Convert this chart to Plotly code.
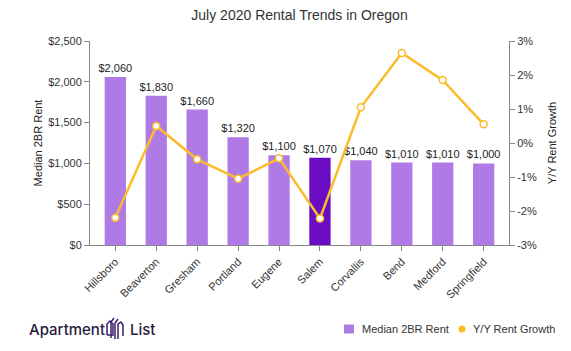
import plotly.graph_objects as go

cities = ["Hillsboro", "Beaverton", "Gresham", "Portland", "Eugene", "Salem",
          "Corvallis", "Bend", "Medford", "Springfield"]
rent = [2060, 1830, 1660, 1320, 1100, 1070, 1040, 1010, 1010, 1000]
growth = [-2.2, 0.5, -0.48, -1.05, -0.45, -2.22, 1.05, 2.65, 1.85, 0.55]
highlight = "Salem"
rent_ticks = [0, 500, 1000, 1500, 2000, 2500]
growth_ticks = [-3, -2, -1, 0, 1, 2, 3]

light = "#b07ae6"
dark = "#6a0cc4"
gold = "#fbbc2c"
bar_colors = [dark if c == highlight else light for c in cities]

L, R, T, B = 90, 509, 41, 245
W, H = 571, 351

fig = go.Figure()
fig.add_trace(go.Bar(
    x=cities, y=rent, name="Median 2BR Rent",
    marker=dict(color=bar_colors, line=dict(width=0)),
    text=["${:,}".format(v) for v in rent], textposition="outside",
    constraintext="none",
    textfont=dict(family="Arial", size=11, color="#222"), cliponaxis=False,
    showlegend=False, yaxis="y"))
fig.add_trace(go.Scatter(
    x=cities, y=growth, name="Y/Y Rent Growth", yaxis="y2",
    mode="lines+markers", line=dict(color=gold, width=2.5),
    marker=dict(size=7, color="white", line=dict(color=gold, width=1.5)),
    showlegend=False, cliponaxis=False))

axis_font = dict(family="Arial", size=11, color="#333")
fig.update_layout(
    width=W, height=H,
    margin=dict(l=L, r=W - R, t=T, b=H - B),
    plot_bgcolor="white", paper_bgcolor="white",
    font=dict(family="Arial", color="#333"),
    showlegend=False,
    title=dict(text="July 2020 Rental Trends in Oregon", x=0.5, xref="paper",
               xanchor="center", y=1 - 15 / H, yanchor="middle",
               font=dict(size=14, color="#333")),
    bargap=0.48,
    xaxis=dict(showgrid=False, tickangle=-45, tickfont=axis_font,
               showline=True, linecolor="#888", ticks="outside", ticklen=5,
               tickcolor="#888"),
    yaxis=dict(range=[0, 2500], tickvals=rent_ticks,
               ticktext=["${:,}".format(v) for v in rent_ticks],
               showgrid=False, showline=True, linecolor="#888", ticks="outside",
               ticklen=5, tickcolor="#888", tickfont=axis_font, zeroline=False,
               title=dict(text="Median 2BR Rent", font=dict(size=11, color="#222"),
                          standoff=3)),
    yaxis2=dict(range=[-3, 3], tickvals=growth_ticks,
                ticktext=["{}%".format(v) for v in growth_ticks],
                overlaying="y", side="right",
                showgrid=False, showline=True, linecolor="#888", ticks="outside",
                ticklen=5, tickcolor="#888", tickfont=axis_font, zeroline=False,
                title=dict(text="Y/Y Rent Growth", font=dict(size=11, color="#222"),
                           standoff=12)),
)

def px(xp, yp):
    return (xp - L) / (R - L), (B - yp) / (B - T)

# manual legend
ly = 329
x0, y0 = px(344, ly - 4.5)
x1, y1 = px(354, ly + 4.5)
fig.add_shape(type="rect", xref="paper", yref="paper", x0=x0, x1=x1, y0=y1, y1=y0,
              fillcolor=light, line=dict(width=0))
tx, ty = px(360, ly)
fig.add_annotation(text="Median 2BR Rent", xref="paper", yref="paper", x=tx, y=ty,
                   xanchor="left", yanchor="middle", showarrow=False,
                   font=dict(family="Arial", size=11, color="#333"))
cx0, cy0 = px(458.5, ly - 3.5)
cx1, cy1 = px(465.5, ly + 3.5)
fig.add_shape(type="circle", xref="paper", yref="paper", x0=cx0, x1=cx1, y0=cy1, y1=cy0,
              fillcolor=gold, line=dict(width=0))
tx, ty = px(471, ly)
fig.add_annotation(text="Y/Y Rent Growth", xref="paper", yref="paper", x=tx, y=ty,
                   xanchor="left", yanchor="middle", showarrow=False,
                   font=dict(family="Arial", size=11, color="#333"))

# logo
lx, lyy = px(27, 329)
fig.add_annotation(text="Apartment", xref="paper", yref="paper",
                   x=lx, y=lyy, xanchor="left", yanchor="middle",
                   showarrow=False, font=dict(family="Inter", size=15, weight=500,
                                              color="#2a1a40"))
lx, lyy = px(128, 329)
fig.add_annotation(text="List", xref="paper", yref="paper",
                   x=lx, y=lyy, xanchor="left", yanchor="middle",
                   showarrow=False, font=dict(family="Inter", size=15, weight=500,
                                              color="#2a1a40"))
ox = -1
icon_paths = [
    [(108, 335), (108, 324), (111, 321), (114, 324), (114, 335), (108, 335)],
    [(112, 338), (112, 322), (115, 318)],
    [(116, 339), (116, 323), (119, 319)],
    [(119, 339), (119, 324), (122, 322), (124, 325), (124, 336)],
]
for pts in icon_paths:
    conv = [px(a + ox, b) for a, b in pts]
    d = "M " + " L ".join(f"{a},{b}" for a, b in conv)
    fig.add_shape(type="path", path=d, xref="paper", yref="paper",
                  line=dict(color="#3a1e6a", width=1.5))

fig.write_html("out.html")
